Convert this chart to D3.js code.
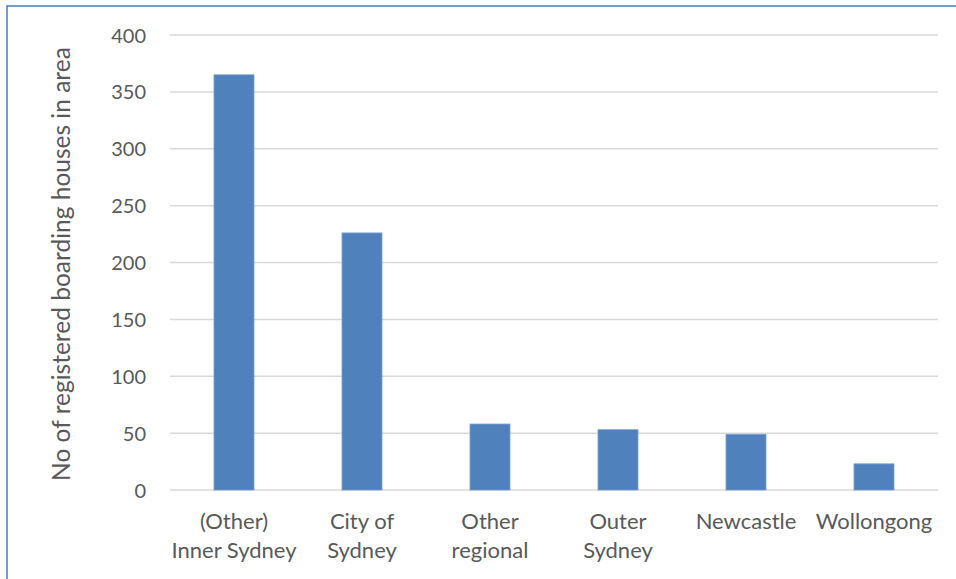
<!DOCTYPE html>
<html><head><meta charset="utf-8">
<script src="https://cdn.jsdelivr.net/npm/d3@7"></script>
<style>body{margin:0;background:#fff;} svg{display:block;}</style>
</head><body>
<svg id="chart" width="956" height="579"></svg>
<script>
const categories = [["(Other)","Inner Sydney"],["City of","Sydney"],["Other","regional"],["Outer","Sydney"],["Newcastle"],["Wollongong"]];
const values = [365, 226, 58, 53, 49, 23];
const yTicks = [0, 50, 100, 150, 200, 250, 300, 350, 400];
const yTitle = "No of registered boarding houses in area";

(function(){
const svg = d3.select("#chart");
const font = "Lato, 'Open Sans', sans-serif";
const pLeft = 170, pRight = 938, pTop = 35, pBottom = 490;

svg.append("rect").attr("x", 7).attr("y", 6).attr("width", 1000).attr("height", 700)
  .attr("fill", "#fff").attr("stroke", "#4a7ebb").attr("stroke-width", 1.5);

const x = d3.scaleBand().domain(categories.map((d,i)=>i)).range([pLeft, pRight]).paddingInner(0.6875).paddingOuter(0.34375);
const y = d3.scaleLinear().domain([0, 400]).range([pBottom, pTop]);

const g = svg.append("g");
g.selectAll("line.grid").data(yTicks).join("line")
  .attr("x1", pLeft).attr("x2", pRight)
  .attr("y1", d=>y(d)).attr("y2", d=>y(d))
  .attr("stroke", "#d9d9d9").attr("stroke-width", 1.5);

g.selectAll("rect.bar").data(values).join("rect")
  .attr("x", (d,i)=>x(i)).attr("width", x.bandwidth())
  .attr("y", d=>y(d)).attr("height", d=>y(0)-y(d))
  .attr("fill", "#4f81bd").attr("stroke", "#7ba0d0").attr("stroke-width", 0.8);

const yAxis = d3.axisLeft(y).tickValues(yTicks).tickSize(0).tickPadding(0);
const ya = svg.append("g").attr("transform", `translate(146,0)`).call(yAxis);
ya.select(".domain").remove();
ya.selectAll("text").attr("font-family", font).attr("font-size", 20).attr("fill", "#595959").attr("dy", "0.35em");

const xa = svg.append("g");
categories.forEach((lines, i) => {
  const t = xa.append("text").attr("x", x(i) + x.bandwidth()/2).attr("y", 529)
    .attr("text-anchor", "middle").attr("font-family", font).attr("font-size", 22).attr("fill", "#595959");
  lines.forEach((l, j) => t.append("tspan").attr("x", x(i) + x.bandwidth()/2).attr("dy", j === 0 ? 0 : 29).text(l));
});

svg.append("text").attr("transform", `translate(70,${(44+484)/2}) rotate(-90)`)
  .attr("text-anchor", "middle").attr("font-family", font).attr("font-size", 24.5).attr("fill", "#595959")
  .text(yTitle);
})();
</script>
</body></html>
